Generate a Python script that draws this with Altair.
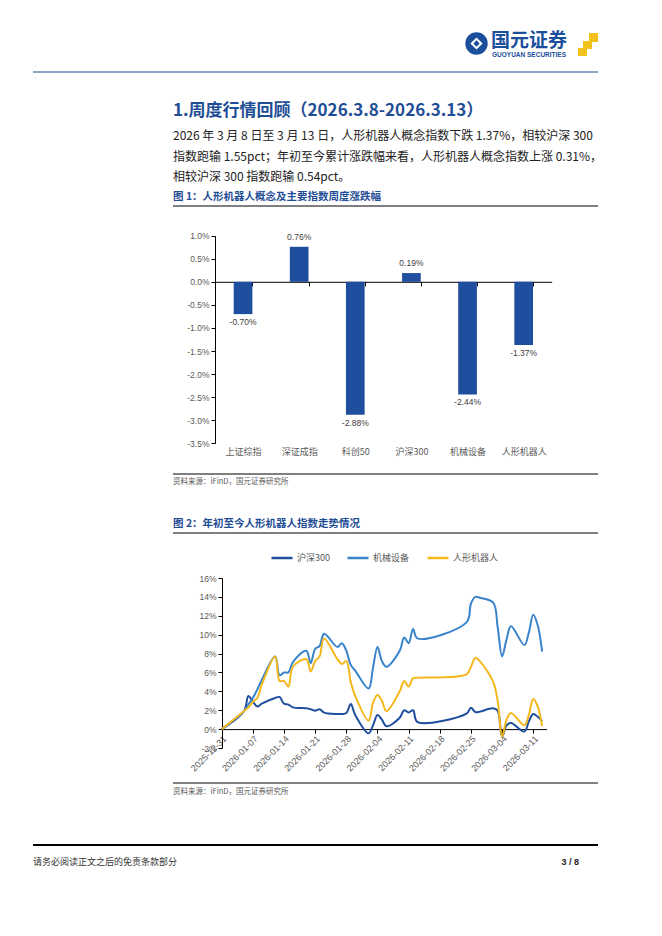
import altair as alt
import pandas as pd

# ------------------------------------------------------------------ data
bar_cats = ["上证综指", "深证成指", "科创50", "沪深300", "机械设备", "人形机器人"]
bar_vals = [-0.70, 0.76, -2.88, 0.19, -2.44, -1.37]          # %
bar_ticks = [1.0, 0.5, 0.0, -0.5, -1.0, -1.5, -2.0, -2.5, -3.0, -3.5]

dates = [
    "2025-12-31",
    "2026-01-05", "2026-01-06", "2026-01-07", "2026-01-08", "2026-01-09",
    "2026-01-12", "2026-01-13", "2026-01-14", "2026-01-15", "2026-01-16",
    "2026-01-19", "2026-01-20", "2026-01-21", "2026-01-22", "2026-01-23",
    "2026-01-26", "2026-01-27", "2026-01-28", "2026-01-29", "2026-01-30",
    "2026-02-02", "2026-02-03", "2026-02-04", "2026-02-05", "2026-02-06",
    "2026-02-09", "2026-02-10", "2026-02-11", "2026-02-12", "2026-02-13",
    "2026-02-24", "2026-02-25", "2026-02-26", "2026-02-27",
    "2026-03-02", "2026-03-03", "2026-03-04", "2026-03-05", "2026-03-06",
    "2026-03-09", "2026-03-10", "2026-03-11", "2026-03-12", "2026-03-13",
]
hs300 = [0.0,
         1.9, 3.5, 2.9, 2.4, 2.7,
         3.3, 3.4, 2.7, 2.6, 2.3,
         2.2, 2.1, 1.95, 2.1, 1.75,
         1.6, 1.6, 1.7, 2.65, 1.5,
         -0.45, 0.4, 1.5, 1.0, 0.3,
         1.2, 2.0, 1.75, 2.0, 0.75,
         1.65, 2.25, 1.8, 1.85,
         2.2, 1.95, -0.8, 0.4, 0.66,
         -0.25, 0.8, 1.6, 1.3, 0.85]
jxsb = [0.0,
        1.9, 2.6, 3.3, 4.2, 5.2,
        7.7, 5.7, 6.0, 6.0, 7.1,
        8.3, 7.0, 8.5, 8.8, 10.1,
        8.7, 9.1, 8.3, 6.8, 6.2,
        4.3, 6.5, 8.7, 7.2, 6.6,
        8.3, 9.7, 9.1, 10.6, 9.6,
        11.3, 13.3, 14.0, 13.9,
        13.4, 10.8, 7.7, 9.5, 10.9,
        8.9, 10.2, 12.1, 11.0, 8.2]
rxjqr = [0.0,
         1.9, 2.3, 2.9, 3.3, 4.7,
         7.7, 5.1, 5.1, 4.5, 6.6,
         7.4, 6.1, 7.2, 7.7, 9.6,
         7.4, 6.9, 7.2, 5.0, 3.5,
         0.9, 2.8, 3.6, 3.0, 1.9,
         4.0, 5.1, 4.5, 5.4, 5.45,
         5.8, 6.6, 7.55, 7.2,
         5.0, 3.0, -0.8, 1.0, 1.7,
         0.4, 1.5, 3.2, 2.4, 0.31]
series_names = ["沪深300", "机械设备", "人形机器人"]
line_colors = ["#1f4e9e", "#3a84cb", "#f4b81c"]
week_ticks = ["2025-12-31", "2026-01-07", "2026-01-14", "2026-01-21", "2026-01-28",
              "2026-02-04", "2026-02-11", "2026-02-18", "2026-02-25", "2026-03-04",
              "2026-03-11"]
line_ticks = [-2, 0, 2, 4, 6, 8, 10, 12, 14, 16]

CJK = "Noto Sans CJK SC"
NUM = "Liberation Sans"
BLUE = "#1f4e96"
AXC = "#595959"


def dt(s):
    y, m, d = (int(p) for p in s.split("-"))
    return alt.DateTime(year=y, month=m, date=d, utc=True)


ONE = alt.Data(values=[{"k": 1}])


def txt(s, x, y, size, color="#222222", weight="normal", font=CJK, align="left"):
    return alt.Chart(alt.Data(values=[{"t": s}])).mark_text(
        align=align, baseline="middle", fontSize=size, color=color,
        fontWeight=weight, font=font
    ).encode(x=alt.value(x), y=alt.value(y), text="t:N")


def hrule(x1, x2, y, color="black", w=1.0):
    return alt.Chart(ONE).mark_rule(color=color, strokeWidth=w).encode(
        x=alt.value(x1), x2=alt.value(x2), y=alt.value(y))


def rect(x1, x2, y1, y2, color):
    return alt.Chart(ONE).mark_rect(color=color).encode(
        x=alt.value(x1), x2=alt.value(x2), y=alt.value(y1), y2=alt.value(y2))


# ------------------------------------------------------------------ decorations / text
decor = [
    # logo
    alt.Chart(ONE).mark_point(shape="circle", filled=True, size=500, color="#1b4f9c", opacity=1)
    .encode(x=alt.value(468.5), y=alt.value(35.5)),
    alt.Chart(ONE).mark_point(shape="diamond", filled=True, size=150, color="white", opacity=1)
    .encode(x=alt.value(468.5), y=alt.value(35.5)),
    alt.Chart(ONE).mark_point(shape="diamond", filled=True, size=40, color="#1b4f9c", opacity=1)
    .encode(x=alt.value(468.5), y=alt.value(35.5)),
    txt("国元证券", 483, 33, 19, color="#1b4f9c", weight="bold"),
    txt("GUOYUAN SECURITIES", 484, 47, 6.5, color="#1b4f9c", weight="bold", font=NUM),
    rect(581, 590, 25, 34, "#f2c21b"),
    rect(575, 584, 33, 41, "#f2c21b"),
    rect(570, 579, 40, 48, "#f2c21b"),
    hrule(25, 590, 64, color="#1f4e96", w=1.2),
    # section
    txt("1.周度行情回顾（2026.3.8-2026.3.13）", 165, 103, 17, color=BLUE, weight="bold"),
    txt("2026 年 3 月 8 日至 3 月 13 日，人形机器人概念指数下跌 1.37%，相较沪深 300", 165, 128, 12),
    txt("指数跑输 1.55pct；年初至今累计涨跌幅来看，人形机器人概念指数上涨 0.31%，", 165, 149, 12),
    txt("相较沪深 300 指数跑输 0.54pct。", 165, 169, 12),
    txt("图 1：人形机器人概念及主要指数周度涨跌幅", 165, 189, 10.5, color=BLUE, weight="bold"),
    hrule(165, 590, 198, w=1.2),
    hrule(165, 590, 466, w=1.0),
    txt("资料来源：iFinD，国元证券研究所", 165, 474, 7.5, color=AXC),
    txt("图 2：年初至今人形机器人指数走势情况", 165, 516, 10.5, color=BLUE, weight="bold"),
    hrule(165, 590, 525, w=1.2),
    hrule(165, 590, 775, w=1.0),
    txt("资料来源：iFinD，国元证券研究所", 165, 784, 7.5, color=AXC),
    # footer
    hrule(25, 590, 837, w=2.0),
    txt("请务必阅读正文之后的免责条款部分", 25, 854, 9, color="#333333"),
    txt("3 / 8", 571, 854, 9, color="#222222", weight="bold", font=NUM, align="right"),
]

# ------------------------------------------------------------------ bar chart
df_bar = pd.DataFrame({"cat": bar_cats, "v": bar_vals,
                       "lab": [f"{v:.2f}%" for v in bar_vals]})

X_bar = alt.X("cat:N", sort=bar_cats,
              scale=alt.Scale(range=[207, 543.7], paddingInner=0.667, paddingOuter=0.333),
              axis=alt.Axis(orient="bottom", offset=-646.2, title=None, labelAngle=0,
                            domainColor="black", domainWidth=1, ticks=True, tickBand="extent",
                            tickColor="black", tickSize=4, labelPadding=162, grid=False,
                            labelFont=CJK, labelFontSize=9, labelColor=AXC))
Y_bar = alt.Y("v:Q",
              scale=alt.Scale(domain=[-3.5, 1.0], range=[435.3, 227.7], nice=False),
              axis=alt.Axis(orient="left", offset=-207, title=None, values=bar_ticks,
                            labelExpr="(datum.value < 0 ? '-' : '') + format(abs(datum.value), '.1f') + '%'",
                            grid=False, domainColor="black", tickColor="black", tickSize=4,
                            labelPadding=2, labelFont=NUM, labelFontSize=8.5, labelColor=AXC))

bars = alt.Chart(df_bar).mark_bar(color="#1f4e9e").encode(x=X_bar, y=Y_bar, y2=alt.datum(0))
pos_lab = alt.Chart(df_bar).transform_filter("datum.v >= 0").mark_text(
    baseline="bottom", dy=-5, font=NUM, fontSize=8.5, color="#404040"
).encode(x=X_bar, y=Y_bar, text="lab:N")
neg_lab = alt.Chart(df_bar).transform_filter("datum.v < 0").mark_text(
    baseline="top", dy=4, font=NUM, fontSize=8.5, color="#404040"
).encode(x=X_bar, y=Y_bar, text="lab:N")
bar_layer = alt.layer(bars, pos_lab, neg_lab)

# ------------------------------------------------------------------ line chart
rows = []
for name, arr in zip(series_names, [hs300, jxsb, rxjqr]):
    for d, v in zip(dates, arr):
        rows.append({"date": d, "series": name, "value": v})
df_line = pd.DataFrame(rows)

line = alt.Chart(df_line).mark_line(interpolate="catmull-rom", strokeWidth=2).encode(
    x=alt.X("date:T",
            scale=alt.Scale(type="utc", domain=[dt("2025-12-31"), dt("2026-03-14")],
                            range=[213.7, 538.6]),
            axis=alt.Axis(orient="bottom", offset=-198.9, title=None,
                          values=[dt(s) for s in week_ticks],
                          labelExpr="utcFormat(datum.value, '%Y-%m-%d')",
                          labelAngle=315, labelAlign="right",
                          labelBaseline="top", labelPadding=1, labelOverlap=False,
                          labelFlush=False, tickSize=4, tickColor="black",
                          domainColor="black", grid=False, labelFont=NUM,
                          labelFontSize=9, labelColor=AXC)),
    y=alt.Y("value:Q",
            scale=alt.Scale(domain=[-2, 16], range=[740, 570], nice=False, zero=False),
            axis=alt.Axis(orient="left", offset=-214, title=None, values=line_ticks,
                          labelExpr="datum.value + '%'", grid=False, domainColor="black",
                          tickColor="black", tickSize=4, labelPadding=2, labelFlush=False,
                          labelFont=NUM, labelFontSize=8.5, labelColor=AXC)),
    color=alt.Color("series:N", sort=series_names,
                    scale=alt.Scale(domain=series_names, range=line_colors),
                    legend=alt.Legend(orient="none", legendX=262, legendY=538,
                                      direction="horizontal", title=None,
                                      symbolType="stroke", symbolSize=441,
                                      symbolStrokeWidth=2.5, labelFont=CJK,
                                      labelFontSize=9, labelColor=AXC,
                                      columnPadding=12, labelOffset=3, padding=0)),
    order=alt.Order("series:N"),
)

chart = alt.layer(*decor, bar_layer, line).resolve_scale(
    x="independent", y="independent"
).properties(
    width=646, height=920, padding=0,
    autosize=alt.AutoSizeParams(type="none"),
).configure_view(stroke=None)

chart.save("out.html", embed_options={"renderer": "svg", "actions": False})
